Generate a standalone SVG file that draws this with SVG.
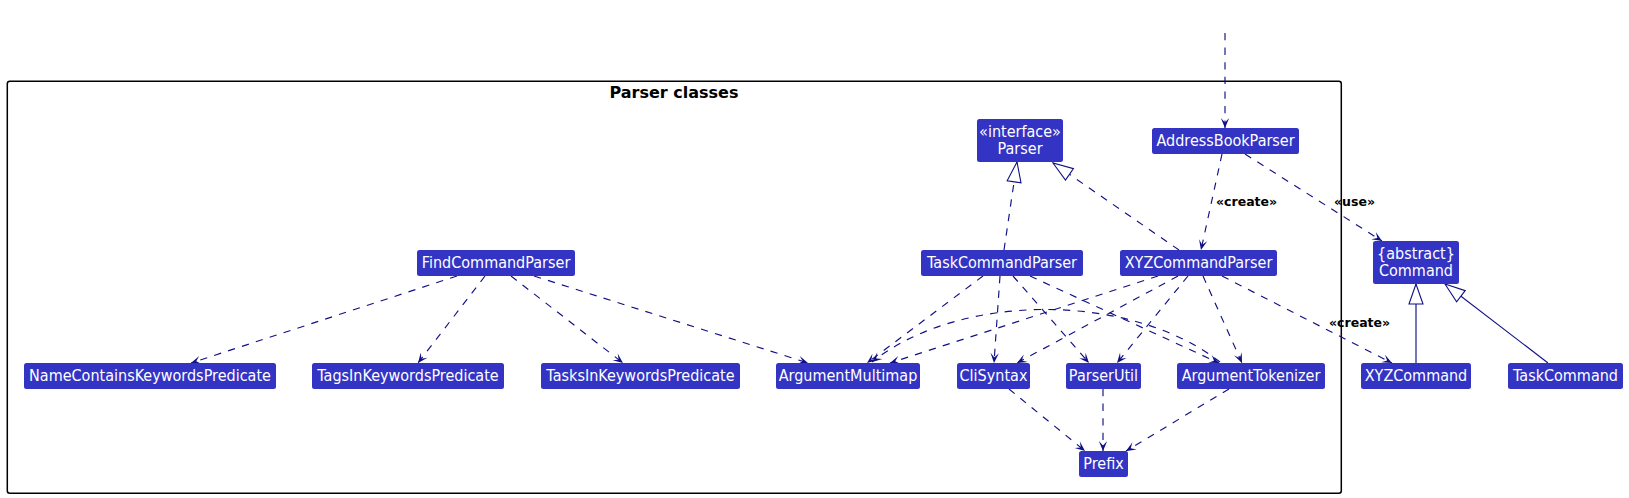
<svg xmlns="http://www.w3.org/2000/svg" width="1629" height="498" viewBox="0 0 1629 498">
<style>
.node rect{fill:#3333C4;}
.node text{fill:#FFFFFF;font-family:"DejaVu Sans","Liberation Sans",sans-serif;font-size:16px;text-anchor:middle;transform-box:fill-box;transform-origin:center;transform:scaleX(0.9);}
.edge{fill:none;stroke:#101086;stroke-width:1.15;}
.dash{stroke-dasharray:7.3,7.3;}
.lbl{fill:#000000;font-family:"DejaVu Sans","Liberation Sans",sans-serif;font-size:12.5px;font-weight:bold;}
.title{fill:#000000;font-family:"DejaVu Sans","Liberation Sans",sans-serif;font-size:16px;font-weight:bold;text-anchor:middle;}
</style>
<defs>
<marker id="dep" markerUnits="userSpaceOnUse" viewBox="-11 -6 12 12" refX="0" refY="0" markerWidth="12" markerHeight="12" orient="auto">
<path d="M0,0 L-10,-4.2 L-5.5,0 L-10,4.2 Z" fill="#101086" stroke="none"/>
</marker>
<marker id="tri" markerUnits="userSpaceOnUse" viewBox="-21 -8 22 16" refX="0" refY="0" markerWidth="22" markerHeight="16" orient="auto">
<path d="M0,0 L-20,-7 L-20,7 Z" fill="#FFFFFF" stroke="#101086" stroke-width="1.1" stroke-dasharray="none"/>
</marker>
</defs>
<rect width="1629" height="498" fill="#FFFFFF"/>
<g id="package">
<rect x="7.3" y="81.3" width="1334" height="412" rx="2.5" fill="none" stroke="#000000" stroke-width="1.5"/>
<text class="title" x="674" y="98">Parser classes</text>
</g>
<g id="connectors">
<path class="edge dash" d="M1225,33 L1225,128" marker-end="url(#dep)"/>
<path class="edge dash" d="M1222,154 L1201,250" marker-end="url(#dep)"/>
<path class="edge dash" d="M1245,154 L1382,241" marker-end="url(#dep)"/>
<path class="edge dash" d="M1004,250 L1017,162" marker-end="url(#tri)"/>
<path class="edge dash" d="M1179,250 L1053,163" marker-end="url(#tri)"/>
<path class="edge dash" d="M457,276 L191,363" marker-end="url(#dep)"/>
<path class="edge dash" d="M485,276 L418,363" marker-end="url(#dep)"/>
<path class="edge dash" d="M511,276 L623,363" marker-end="url(#dep)"/>
<path class="edge dash" d="M534,276 L808,363" marker-end="url(#dep)"/>
<path class="edge dash" d="M983,276 L867,363" marker-end="url(#dep)"/>
<path class="edge dash" d="M1000,276 L994,363" marker-end="url(#dep)"/>
<path class="edge dash" d="M1013,276 L1089,363" marker-end="url(#dep)"/>
<path class="edge dash" d="M1030,276 L1219,363" marker-end="url(#dep)"/>
<path class="edge dash" d="M1158,276 L890,363" marker-end="url(#dep)"/>
<path class="edge dash" d="M1178,276 L1017,363" marker-end="url(#dep)"/>
<path class="edge dash" d="M1188,276 L1117,363" marker-end="url(#dep)"/>
<path class="edge dash" d="M1203,276 L1242,363" marker-end="url(#dep)"/>
<path class="edge dash" d="M1222,276 L1392,363" marker-end="url(#dep)"/>
<path class="edge dash" d="M1220,362 C1130,292 960,292 872,362" marker-end="url(#dep)"/>
<path class="edge dash" d="M1009,389 L1085,451" marker-end="url(#dep)"/>
<path class="edge dash" d="M1103,389 L1103,451" marker-end="url(#dep)"/>
<path class="edge dash" d="M1229,389 L1126,451" marker-end="url(#dep)"/>
<path class="edge" d="M1416,363 L1416,284" marker-end="url(#tri)"/>
<path class="edge" d="M1548,363 L1445,284" marker-end="url(#tri)"/>
<text class="lbl" x="1216" y="205.5">«create»</text>
<text class="lbl" x="1334" y="205.5">«use»</text>
<text class="lbl" x="1329" y="327">«create»</text>
</g>
<g id="AddressBookParser" class="node"><rect x="1152" y="128" width="147" height="26" rx="2.5"/><text x="1225.5" y="146.5">AddressBookParser</text></g>
<g id="Parser" class="node"><rect x="977" y="119" width="86" height="43" rx="2.5"/><text x="1020" y="137">«interface»</text><text x="1020" y="154">Parser</text></g>
<g id="TaskCommandParser" class="node"><rect x="921" y="250" width="162" height="26" rx="2.5"/><text x="1002" y="268.5">TaskCommandParser</text></g>
<g id="XYZCommandParser" class="node"><rect x="1120" y="250" width="157" height="26" rx="2.5"/><text x="1198.5" y="268.5">XYZCommandParser</text></g>
<g id="FindCommandParser" class="node"><rect x="417" y="250" width="158" height="26" rx="2.5"/><text x="496" y="268.5">FindCommandParser</text></g>
<g id="NameContainsKeywordsPredicate" class="node"><rect x="24" y="363" width="252" height="26" rx="2.5"/><text x="150" y="381.5">NameContainsKeywordsPredicate</text></g>
<g id="TagsInKeywordsPredicate" class="node"><rect x="312" y="363" width="192" height="26" rx="2.5"/><text x="408" y="381.5">TagsInKeywordsPredicate</text></g>
<g id="TasksInKeywordsPredicate" class="node"><rect x="541" y="363" width="199" height="26" rx="2.5"/><text x="640.5" y="381.5">TasksInKeywordsPredicate</text></g>
<g id="ArgumentMultimap" class="node"><rect x="776" y="363" width="144" height="26" rx="2.5"/><text x="848" y="381.5">ArgumentMultimap</text></g>
<g id="CliSyntax" class="node"><rect x="957" y="363" width="73" height="26" rx="2.5"/><text x="993.5" y="381.5">CliSyntax</text></g>
<g id="ParserUtil" class="node"><rect x="1066" y="363" width="75" height="26" rx="2.5"/><text x="1103.5" y="381.5">ParserUtil</text></g>
<g id="ArgumentTokenizer" class="node"><rect x="1177" y="363" width="148" height="26" rx="2.5"/><text x="1251" y="381.5">ArgumentTokenizer</text></g>
<g id="Prefix" class="node"><rect x="1079" y="451" width="49" height="26" rx="2.5"/><text x="1103.5" y="469.5">Prefix</text></g>
<g id="Command" class="node"><rect x="1373" y="241" width="86" height="43" rx="2.5"/><text x="1416" y="259">{abstract}</text><text x="1416" y="276">Command</text></g>
<g id="XYZCommand" class="node"><rect x="1361" y="363" width="110" height="26" rx="2.5"/><text x="1416" y="381.5">XYZCommand</text></g>
<g id="TaskCommand" class="node"><rect x="1508" y="363" width="115" height="26" rx="2.5"/><text x="1565.5" y="381.5">TaskCommand</text></g>
</svg>
